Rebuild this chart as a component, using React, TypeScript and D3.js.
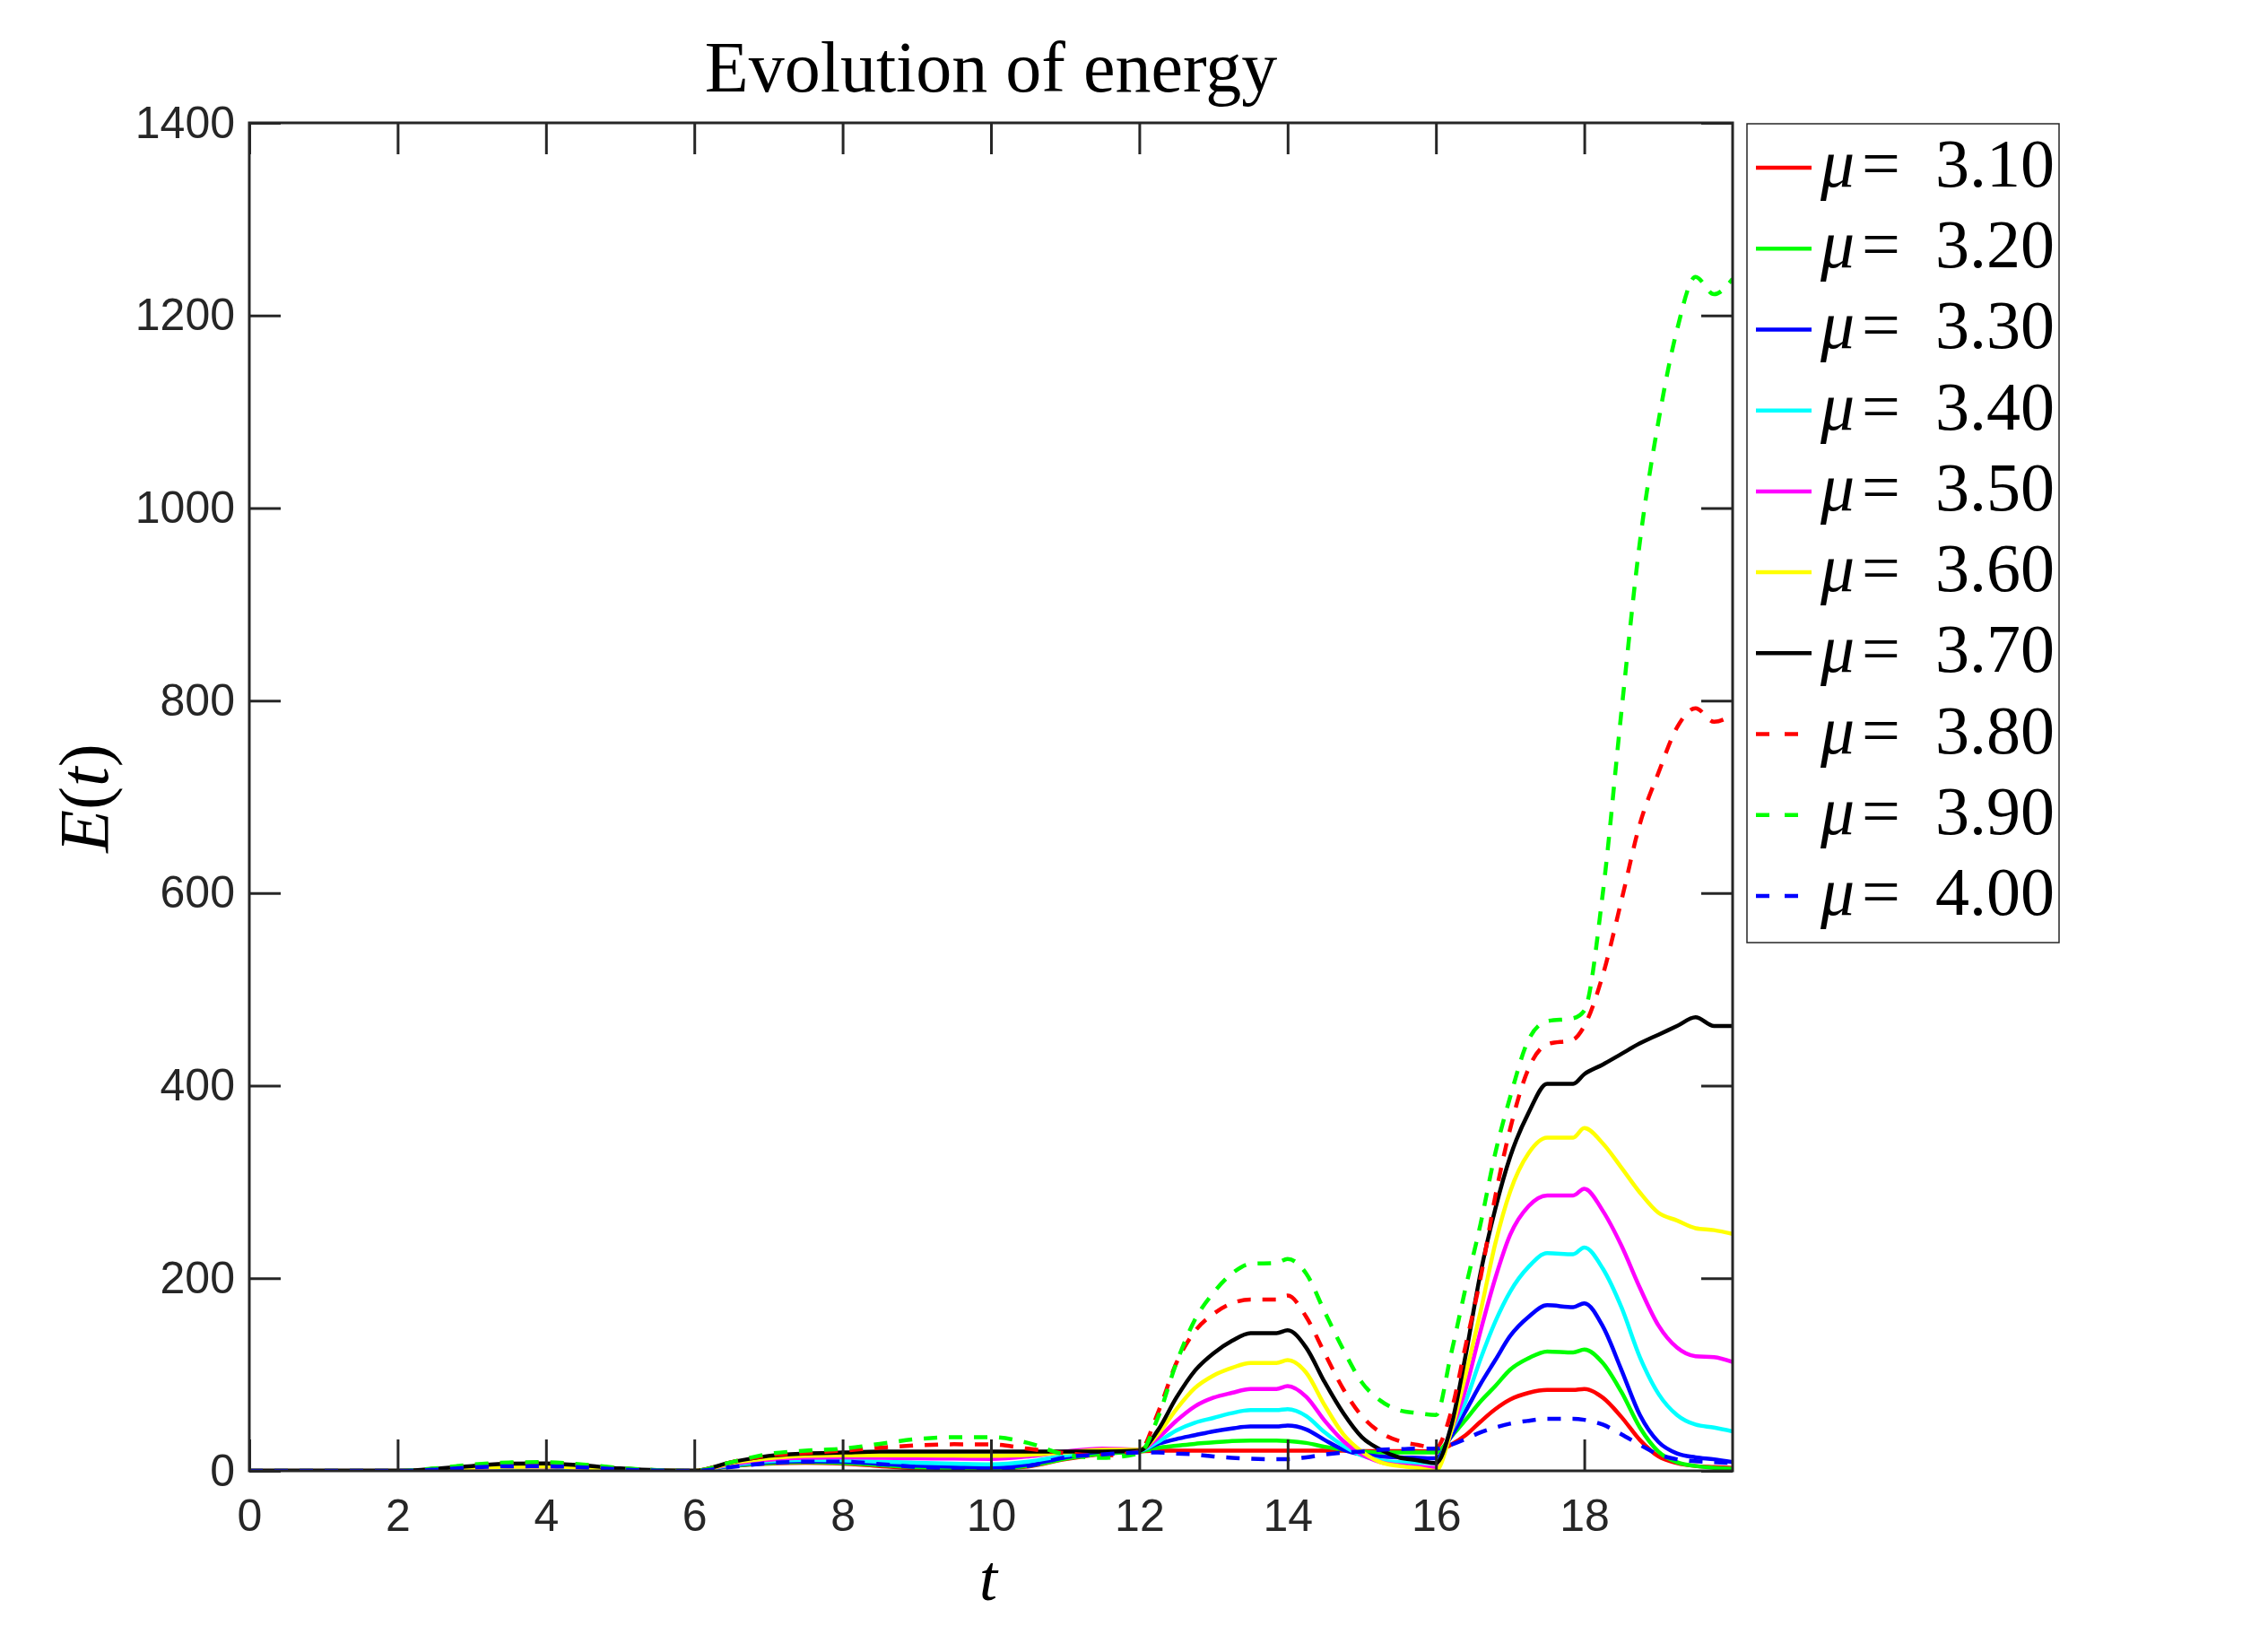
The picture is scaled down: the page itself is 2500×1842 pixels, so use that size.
import React, { useEffect, useRef } from 'react';
import * as d3 from 'd3';

// time samples (t) shared by every series
const tValues = [
  0, 2, 2.5, 3, 3.5, 4, 4.5, 5, 5.5, 6,
  6.5, 7, 7.5, 8, 8.5, 9, 9.5, 10, 10.5, 11,
  11.5, 12, 12.25, 12.5, 12.75, 13, 13.25, 13.5, 13.85, 14,
  14.25, 14.5, 14.75, 15, 15.25, 15.5, 15.75, 16, 16.2, 16.4, 16.6,
  16.8, 17, 17.25, 17.5, 17.85, 18, 18.25, 18.5, 18.75, 19,
  19.25, 19.5, 19.75, 20,
];

// E(t) for each mu
const mu310 = [
  0, 0, 1, 2.5, 3.5, 3.5, 2.5, 1, 0, 0,
  5, 7.5, 8.5, 7.5, 5, 2.8, 2.3, 2.2, 4.5, 12,
  17.5, 20, 21, 21, 21, 21, 21, 21, 21, 21,
  21, 21, 21, 20.5, 20.5, 20.5, 20.5, 20, 27, 37, 51,
  64, 74, 81, 84, 84, 85, 76, 56, 32, 15,
  8, 5, 4, 3,
];
const mu320 = [
  0, 0, 1, 2.5, 3.5, 3.7, 2.5, 1, 0, 0,
  5, 8, 9, 8.2, 6, 3.7, 2.8, 2.2, 5, 12.5,
  18, 20, 24, 26, 28, 29.5, 31, 31.5, 31.5, 31,
  29, 25, 22, 20, 19, 19, 19, 19, 35, 53, 72,
  88, 105, 117, 124, 123, 126, 112, 82, 45, 20,
  9, 5, 3, 2,
];
const mu330 = [
  0, 0, 1, 2.7, 3.7, 3.8, 2.7, 1, 0, 0,
  5.5, 9, 10, 9.5, 7.5, 5.3, 4.2, 3.4, 6.5, 14,
  20, 21, 28, 33, 37, 41, 44, 46, 46, 47,
  43, 32, 22, 17, 15, 14, 13.5, 13, 35, 62, 90,
  115, 140, 160, 172, 170, 174, 150, 105, 58, 30,
  18, 14, 12, 9,
];
const mu340 = [
  0, 0, 1, 2.8, 3.8, 4, 2.8, 1.2, 0, 0,
  6, 10, 11.5, 11, 9.5, 8.4, 7.5, 6.8, 9.5, 16,
  21, 21, 30, 42, 50, 55, 60, 63, 63, 64,
  57, 40, 26, 16, 11, 9, 8.5, 8, 40, 72, 116,
  155, 186, 212, 226, 225, 232, 210, 170, 118, 80,
  58, 48, 45, 41,
];
const mu350 = [
  0, 0, 1.2, 3, 4, 4.2, 3, 1.2, 0, 0,
  7, 11.5, 13.5, 14, 13.5, 13, 12.7, 12.4, 15, 20,
  23, 22, 34, 52, 67, 76, 81, 85, 85, 88,
  77, 52, 31, 17, 9, 6, 4.5, 3, 40, 85, 145,
  200, 245, 275, 286, 286, 293, 270, 234, 190, 151,
  128, 119, 118, 113,
];
const mu360 = [
  0, 0, 1.3, 3.2, 4.2, 4.4, 3.2, 1.3, 0.2, 0,
  8, 13, 15.5, 16, 16, 16, 15.8, 15.5, 16.5, 19,
  22, 22, 38, 64, 86, 99, 107, 112, 112, 115,
  102, 68, 38, 20, 9, 5, 3, 0, 40, 100, 165,
  236, 290, 330, 346, 346, 356, 340, 315, 289, 268,
  260, 252, 250, 246,
];
const mu370 = [
  0, 0, 2, 5, 7.5, 7.8, 5.5, 2.5, 0.5, 0,
  9, 15.5, 18, 19, 20, 20, 20, 20, 20, 20,
  20, 21, 42, 76, 104, 122, 135, 143, 143, 146,
  128, 92, 60, 35, 22, 14, 11, 8, 45, 120, 205,
  272, 326, 372, 402, 402, 412, 422, 433, 444, 453,
  462, 471, 462, 462,
];
const mu380 = [
  0, 0, 2, 5.5, 8, 8.3, 6, 2.5, 0.5, 0,
  9, 16, 18.5, 21, 24, 26.5, 27.6, 27.5, 23, 18.5,
  16, 20, 60, 112, 145, 163, 174, 178, 178, 182,
  160, 122, 85, 57, 40, 31, 27, 24, 60, 130, 200,
  285, 355, 418, 443, 448, 462, 515, 592, 672, 725,
  772, 792, 778, 785,
];
const mu390 = [
  0, 0, 2.5, 6.5, 8.7, 9, 6.5, 3, 0.8, 0,
  9, 17.5, 21, 23, 28, 33, 35, 35, 29, 17,
  13.5, 18, 55, 112, 157, 185, 205, 215, 216, 220,
  205, 165, 126, 92, 73, 63, 60, 58, 120, 190, 256,
  330, 388, 448, 467, 470, 478, 600, 788, 965, 1090,
  1185, 1240, 1222, 1238,
];
const mu400 = [
  0, 0, 1.2, 3.5, 4.7, 4.8, 3.5, 1.5, 0.3, 0,
  4, 8, 9.5, 9.5, 7, 4, 2.5, 2.2, 5, 14,
  17, 19, 19, 18, 17, 15, 13.5, 12.5, 12, 12,
  14, 17, 19, 20, 22, 22.5, 23, 23, 27, 33, 40,
  45, 49, 52, 54, 54, 53, 48, 38, 27, 17,
  12, 10, 9, 8,
];

const seriesLabels = ['3.10', '3.20', '3.30', '3.40', '3.50', '3.60', '3.70', '3.80', '3.90', '4.00'];
const seriesValues = [mu310, mu320, mu330, mu340, mu350, mu360, mu370, mu380, mu390, mu400];
const seriesColors = ['#ff0000', '#00ff00', '#0000ff', '#00ffff', '#ff00ff', '#ffff00', '#000000', '#ff0000', '#00ff00', '#0000ff'];
const seriesDashed = [false, false, false, false, false, false, false, true, true, true];

const xTicks = [0, 2, 4, 6, 8, 10, 12, 14, 16, 18];
const yTicks = [0, 200, 400, 600, 800, 1000, 1200, 1400];

const App: React.FC = () => {
  const svgRef = useRef<SVGSVGElement>(null);

  useEffect(() => {
    const svg = d3.select(svgRef.current);
    svg.selectAll('*').remove();

    const plot = { left: 278, right: 1932, top: 137, bottom: 1640 };
    const axisColor = '#262626';
    const sans = '"Liberation Sans", Arial, Helvetica, sans-serif';
    const serif = '"Liberation Serif", "Times New Roman", serif';

    const x = d3.scaleLinear().domain([0, 20]).range([plot.left, plot.right]);
    const y = d3.scaleLinear().domain([0, 1400]).range([plot.bottom, plot.top]);

    svg.append('rect').attr('width', 2500).attr('height', 1842).attr('fill', '#fff');

    svg
      .append('defs')
      .append('clipPath')
      .attr('id', 'plot-clip')
      .append('rect')
      .attr('x', plot.left)
      .attr('y', plot.top)
      .attr('width', plot.right - plot.left)
      .attr('height', plot.bottom - plot.top);

    // curves
    const line = d3
      .line<number>()
      .x((_, i) => x(tValues[i]))
      .y((d) => y(d))
      .curve(d3.curveMonotoneX);

    const lines = svg.append('g').attr('clip-path', 'url(#plot-clip)');
    seriesValues.forEach((vals, i) => {
      lines
        .append('path')
        .attr('d', line(vals))
        .attr('fill', 'none')
        .attr('stroke', seriesColors[i])
        .attr('stroke-width', 4.5)
        .attr('stroke-linejoin', 'round')
        .attr('stroke-dasharray', seriesDashed[i] ? '15 13' : null);
    });

    // axes, ticks point inward on all four sides
    const styleAxis = (g: d3.Selection<SVGGElement, unknown, null, undefined>) => {
      g.select('.domain').remove();
      g.selectAll('line').attr('stroke', axisColor).attr('stroke-width', 3);
      g.selectAll('text').attr('fill', axisColor).style('font-family', sans).style('font-size', '50px');
    };

    svg
      .append('g')
      .attr('transform', `translate(0,${plot.bottom})`)
      .call(d3.axisBottom(x).tickValues(xTicks).tickSize(-35).tickSizeOuter(0).tickPadding(31).tickFormat(d3.format('d')))
      .call(styleAxis);
    svg
      .append('g')
      .attr('transform', `translate(0,${plot.top})`)
      .call(d3.axisTop(x).tickValues(xTicks).tickSize(-35).tickSizeOuter(0).tickFormat(() => ''))
      .call(styleAxis);
    svg
      .append('g')
      .attr('transform', `translate(${plot.left},0)`)
      .call(d3.axisLeft(y).tickValues(yTicks).tickSize(-35).tickSizeOuter(0).tickPadding(16).tickFormat(d3.format('d')))
      .call(styleAxis);
    svg
      .append('g')
      .attr('transform', `translate(${plot.right},0)`)
      .call(d3.axisRight(y).tickValues(yTicks).tickSize(-35).tickSizeOuter(0).tickFormat(() => ''))
      .call(styleAxis);

    svg
      .append('rect')
      .attr('x', plot.left)
      .attr('y', plot.top)
      .attr('width', plot.right - plot.left)
      .attr('height', plot.bottom - plot.top)
      .attr('fill', 'none')
      .attr('stroke', axisColor)
      .attr('stroke-width', 3);

    // title and axis labels
    svg
      .append('text')
      .attr('x', 1105)
      .attr('y', 102)
      .attr('text-anchor', 'middle')
      .style('font-family', serif)
      .style('font-size', '80px')
      .attr('fill', '#000')
      .text('Evolution of energy');

    svg
      .append('text')
      .attr('x', 1102)
      .attr('y', 1784)
      .attr('text-anchor', 'middle')
      .style('font-family', serif)
      .style('font-size', '72px')
      .style('font-style', 'italic')
      .attr('fill', '#000')
      .text('t');

    const yLabel = svg
      .append('text')
      .attr('transform', 'translate(120,890) rotate(-90)')
      .attr('text-anchor', 'middle')
      .style('font-family', serif)
      .style('font-size', '78px')
      .attr('fill', '#000');
    yLabel.append('tspan').style('font-style', 'italic').text('E');
    yLabel.append('tspan').text('(');
    yLabel.append('tspan').style('font-style', 'italic').text('t');
    yLabel.append('tspan').text(')');

    // legend
    const legend = svg.append('g');
    legend
      .append('rect')
      .attr('x', 1948)
      .attr('y', 138)
      .attr('width', 348)
      .attr('height', 913)
      .attr('fill', '#fff')
      .attr('stroke', axisColor)
      .attr('stroke-width', 1.5);

    const rowY = d3.scalePoint<string>().domain(seriesLabels).range([187, 999]);
    seriesLabels.forEach((label, i) => {
      const yy = rowY(label) as number;
      legend
        .append('line')
        .attr('x1', 1958)
        .attr('x2', 2020)
        .attr('y1', yy)
        .attr('y2', yy)
        .attr('stroke', seriesColors[i])
        .attr('stroke-width', 4.5)
        .attr('stroke-dasharray', seriesDashed[i] ? '15 17' : null);
      const txt = legend
        .append('text')
        .attr('y', yy + 21)
        .style('font-family', serif)
        .style('font-size', '76px')
        .attr('fill', '#000');
      txt.append('tspan').attr('x', 2030).style('font-style', 'italic').text('μ');
      txt.append('tspan').attr('x', 2076).attr('textLength', 50).text('=');
      txt.append('tspan').attr('x', 2158).text(label);
    });
  }, []);

  return (
    <svg
      ref={svgRef}
      width={2500}
      height={1842}
      style={{ position: 'absolute', left: 0, top: 0, background: '#fff' }}
    />
  );
};

export default App;
